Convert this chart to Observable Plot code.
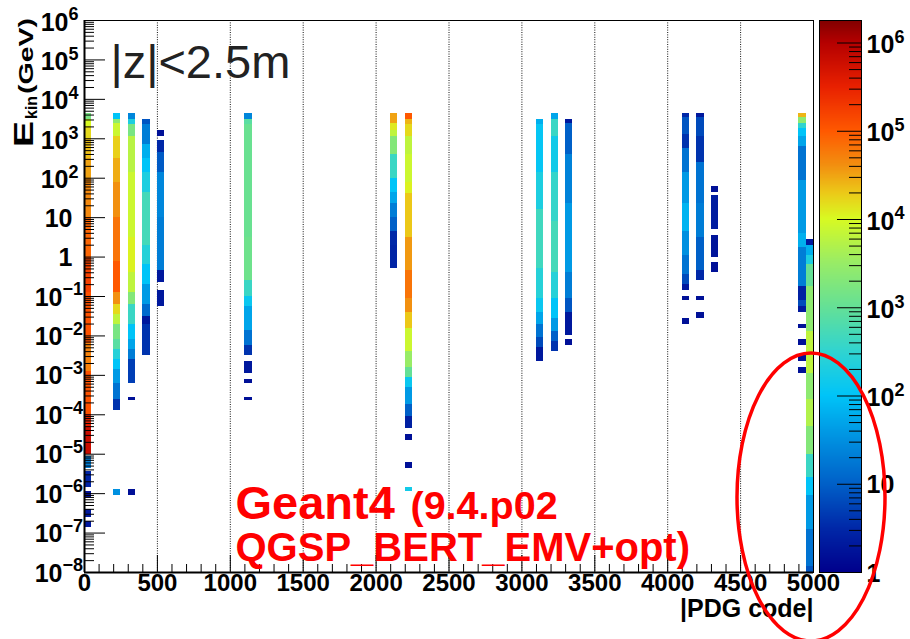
<!DOCTYPE html>
<html>
<head>
<meta charset="utf-8">
<script src="https://cdn.jsdelivr.net/npm/d3@7"></script>
<script src="https://cdn.jsdelivr.net/npm/@observablehq/plot@0.6"></script>
<style>
  html, body { margin: 0; padding: 0; background: #fff; }
  #chart { position: relative; width: 910px; height: 639px; overflow: hidden; font-family: "Liberation Sans", Arial, sans-serif; }
  #chart > svg, #chart > .layer { position: absolute; left: 0; top: 0; }
</style>
</head>
<body>
<div id="chart"></div>
<script>
// Kinetic energy vs |PDG code| of particles within |z| < 2.5 m.
// Each column is one 50-wide |PDG code| bin; each run is [log10(E/GeV) low, high, log10(entries)].
const binWidth = 50;

const pdg0000 = [
  [3.5, 3.65, 3.2], [3.3, 3.5, 4.0], [3.0, 3.3, 4.2], [2.5, 3.0, 4.35], [2.0, 2.5, 4.5],
  [1.0, 2.0, 4.65], [0.0, 1.0, 4.9], [-0.9, 0.0, 5.2], [-2.2, -0.9, 5.05], [-2.9, -2.2, 4.7],
  [-4.0, -2.9, 5.05], [-4.3, -4.0, 5.5], [-5.0, -4.3, 5.8], [-5.35, -5.05, 1.3],
  [-5.85, -5.45, 0.45], [-6.1, -5.95, 0.2], [-6.6, -6.4, 0.3], [-6.85, -6.7, 0.3]
];
const pdg0200 = [
  [3.5, 3.65, 2.0], [3.4, 3.5, 3.4], [3.05, 3.4, 3.9], [2.5, 3.05, 4.25], [1.9, 2.5, 4.45],
  [1.0, 1.9, 4.6], [-0.1, 1.0, 4.8], [-0.9, -0.1, 5.0], [-1.2, -0.9, 4.6], [-1.45, -1.2, 4.2],
  [-1.7, -1.45, 3.8], [-2.1, -1.7, 3.2], [-2.35, -2.1, 2.9], [-2.6, -2.35, 2.4],
  [-2.85, -2.6, 2.0], [-3.2, -2.85, 1.6], [-3.6, -3.2, 1.2], [-3.9, -3.6, 0.6],
  [-6.05, -5.9, 1.5]
];
const pdg0300 = [
  [3.5, 3.65, 1.4], [3.35, 3.5, 2.3], [3.05, 3.35, 3.2], [2.15, 3.05, 3.75], [0.5, 2.15, 3.9],
  [-0.4, 0.5, 4.05], [-0.9, -0.4, 3.8], [-1.2, -0.9, 3.3], [-1.7, -1.2, 2.6], [-2.1, -1.7, 2.0],
  [-2.35, -2.1, 1.7], [-2.6, -2.35, 1.3], [-3.2, -2.6, 0.7], [-3.65, -3.55, 0.2],
  [-6.05, -5.9, 0.2]
];
const pdg0400 = [
  [3.35, 3.5, 0.9], [2.85, 3.35, 1.3], [2.5, 2.85, 1.8], [2.15, 2.5, 2.0], [1.65, 2.15, 2.3],
  [0.3, 1.65, 2.7], [-0.2, 0.3, 2.4], [-0.7, -0.2, 2.0], [-1.2, -0.7, 1.6], [-1.5, -1.2, 1.1],
  [-1.7, -1.5, 0.3], [-2.5, -1.7, 0.6]
];
const pdg0500 = [
  [3.05, 3.2, 0.2], [2.65, 2.95, 0.5], [2.15, 2.65, 0.95], [1.0, 2.15, 1.4], [-0.35, 1.0, 1.3],
  [-0.65, -0.35, 0.3], [-1.25, -0.85, 0.3]
];
const pdg1100 = [
  [3.5, 3.65, 1.4], [3.35, 3.5, 2.9], [0.5, 3.35, 3.05], [-0.6, 0.5, 3.1], [-1.0, -0.6, 2.6],
  [-1.25, -1.0, 2.1], [-1.85, -1.25, 1.7], [-2.25, -1.85, 1.2], [-2.5, -2.25, 0.6],
  [-2.95, -2.65, 0.3], [-3.2, -3.1, 0.2], [-3.65, -3.55, 0.2]
];
const pdg2100 = [
  [3.4, 3.65, 4.5], [3.2, 3.4, 4.1], [3.05, 3.2, 3.8], [2.6, 3.05, 3.3], [2.0, 2.6, 2.6],
  [1.65, 2.0, 2.0], [1.35, 1.65, 1.7], [1.0, 1.35, 1.3], [0.65, 1.0, 1.0], [0.3, 0.65, 0.5],
  [-0.3, 0.3, 0.45]
];
const pdg2200 = [
  [3.5, 3.65, 5.0], [3.35, 3.5, 4.4], [3.05, 3.35, 4.2], [2.6, 3.05, 3.8], [1.9, 2.6, 3.9],
  [1.6, 1.9, 4.05], [0.5, 1.6, 4.3], [-0.35, 0.5, 4.55], [-1.05, -0.35, 4.8], [-1.4, -1.05, 4.6],
  [-1.8, -1.4, 4.3], [-2.4, -1.8, 3.9], [-2.8, -2.4, 3.5], [-3.05, -2.8, 3.0], [-3.3, -3.05, 2.1],
  [-3.75, -3.3, 1.6], [-4.05, -3.75, 1.0], [-4.35, -4.05, 0.4], [-4.65, -4.5, 0.2],
  [-5.35, -5.2, 0.2], [-5.95, -5.85, 2.2]
];
const pdg3100 = [
  [3.35, 3.5, 1.8], [2.15, 3.35, 2.05], [1.2, 2.15, 2.3], [-0.3, 1.2, 2.65], [-1.05, -0.3, 2.4],
  [-1.4, -1.05, 2.1], [-1.7, -1.4, 1.7], [-2.05, -1.7, 1.2], [-2.3, -2.05, 0.8], [-2.65, -2.3, 0.3]
];
const pdg3200 = [
  [3.5, 3.65, 1.7], [3.05, 3.5, 2.6], [2.15, 3.05, 2.2], [0.9, 2.15, 2.55], [-0.4, 0.9, 2.7],
  [-1.05, -0.4, 2.4], [-1.55, -1.05, 2.0], [-1.9, -1.55, 1.6], [-2.15, -1.9, 1.0], [-2.4, -2.15, 0.6]
];
const pdg3300 = [
  [3.4, 3.5, 0.3], [2.6, 3.4, 1.0], [1.35, 2.6, 1.35], [-0.4, 1.35, 1.6], [-1.05, -0.4, 1.3],
  [-1.4, -1.05, 0.9], [-2.0, -1.4, 0.3], [-2.25, -2.1, 0.2]
];
const pdg4100 = [
  [3.55, 3.65, 0.5], [3.1, 3.55, 0.9], [2.75, 3.1, 0.6], [2.15, 2.75, 1.2], [1.35, 2.15, 1.6],
  [0.65, 1.35, 1.85], [0.05, 0.65, 1.5], [-0.45, 0.05, 1.2], [-0.7, -0.45, 0.8], [-0.85, -0.7, 0.3],
  [-1.1, -1.0, 0.2], [-1.7, -1.55, 0.2]
];
const pdg4200 = [
  [3.55, 3.65, 0.3], [3.05, 3.55, 0.8], [2.4, 3.05, 0.6], [1.35, 2.4, 1.2], [0.5, 1.35, 1.3],
  [-0.35, 0.5, 1.0], [-0.6, -0.35, 0.5], [-1.1, -1.0, 0.2], [-1.55, -1.4, 0.2]
];
const pdg4300 = [
  [1.65, 1.8, 0.2], [0.7, 1.55, 0.35], [0.0, 0.55, 0.25], [-0.4, -0.15, 0.2]
];
const pdg4900 = [
  [3.55, 3.65, 4.4], [3.4, 3.55, 3.4], [3.25, 3.4, 2.5], [3.05, 3.25, 2.0], [2.8, 3.05, 1.7],
  [1.95, 2.8, 1.2], [0.6, 1.95, 1.6], [0.25, 0.6, 1.8], [-0.75, 0.25, 1.3], [-1.1, -0.75, 0.4],
  [-1.25, -1.1, 0.8], [-1.4, -1.25, 0.3], [-1.82, -1.7, 0.2], [-2.25, -2.1, 0.2],
  [-2.65, -2.5, 0.2], [-2.95, -2.8, 0.2]
];
const pdg4950 = [
  [0.3, 0.45, 0.3], [0.05, 0.3, 1.8], [-0.2, 0.05, 2.3], [-0.75, -0.2, 3.0], [-1.9, -0.75, 3.4],
  [-2.95, -1.9, 3.8], [-3.6, -2.95, 3.4], [-4.3, -3.6, 3.7], [-5.0, -4.3, 3.3], [-5.6, -5.0, 2.6],
  [-6.05, -5.6, 2.0], [-6.9, -6.05, 1.6], [-7.85, -6.9, 1.2], [-8.0, -7.85, 0.9]
];

const columns = [
  [0, pdg0000], [200, pdg0200], [300, pdg0300], [400, pdg0400], [500, pdg0500],
  [1100, pdg1100], [2100, pdg2100], [2200, pdg2200], [3100, pdg3100], [3200, pdg3200],
  [3300, pdg3300], [4100, pdg4100], [4200, pdg4200], [4300, pdg4300], [4900, pdg4900],
  [4950, pdg4950]
];

// Axis ticks and labels
const xMajor = d3.range(0, 5001, 500);
const xMinor = d3.range(0, 5001, 100).filter(v => v % 500 !== 0);
const xGrid = d3.range(500, 5000, 500);
const yDecades = d3.range(-8, 7);
const zDecades = d3.range(0, 7);
const minorSteps = [2, 3, 4, 5, 6, 7, 8, 9];

// Rainbow palette over log10(entries)
const zMax = 6.255;
const paletteStops = [0, 0.5, 1, 1.5, 2, 2.5, 3, 3.5, 4, 4.3, 4.6, 5, 5.5, 6, 6.255];
const paletteColors = ["#00008c", "#0028a8", "#0060c8", "#0090e0", "#00c4f8", "#30d4d0", "#64e096",
  "#98ec66", "#d8fa22", "#ecc818", "#f29010", "#ff5800", "#e82000", "#b40000", "#800000"];

const palette = d3.scaleLinear().domain(paletteStops).range(paletteColors)
  .interpolate(d3.interpolateRgb).clamp(true);
const colorOptions = {type: "linear", domain: [0, zMax], interpolate: t => palette(t * zMax)};

const cells = columns.flatMap(([bin, runs]) =>
  runs.map(([lo, hi, z]) => ({bin, lo, hi, z})));

const W = 910, H = 639;
const mL = 84, mR = 97, mT = 20, mB = 67;
const frameW = W - mL - mR, frameH = H - mT - mB;
const font = "Liberation Sans, Arial, Helvetica, sans-serif";

const yMinor = yDecades.slice(0, -1).flatMap(e => minorSteps.map(k => k * 10 ** e));
const yPlain = yDecades.filter(e => e === 0 || e === 1);
const yPos = yDecades.filter(e => e > 1);
const yNeg = yDecades.filter(e => e < 0);
const sup = e => (e < 0 ? "\u2212" : "") + Math.abs(e);

const main = Plot.plot({
  width: W, height: H,
  marginLeft: mL, marginRight: mR, marginTop: mT, marginBottom: mB,
  style: {fontFamily: font, background: "white", overflow: "visible"},
  x: {domain: [0, 5000], axis: null},
  y: {type: "log", domain: [1e-8, 1e6], axis: null},
  color: colorOptions,
  marks: [
    Plot.ruleX(xGrid, {x: d => d, stroke: "#111", strokeDasharray: "1,1.4", strokeWidth: 1}),
    Plot.rect(cells, {
      x1: d => d.bin, x2: d => d.bin + binWidth,
      y1: d => 10 ** d.lo, y2: d => 10 ** d.hi,
      fill: d => d.z, shapeRendering: "crispEdges"
    }),
    // inward ticks
    Plot.tickY(yDecades, {y: e => 10 ** e, insetRight: frameW - 21, stroke: "#000"}),
    Plot.tickY(yMinor, {y: d => d, insetRight: frameW - 10, stroke: "#000"}),
    Plot.tickX(xMajor, {x: d => d, insetTop: frameH - 17, stroke: "#000"}),
    Plot.tickX(xMinor, {x: d => d, insetTop: frameH - 8, stroke: "#000"}),
    Plot.frame({stroke: "#000", strokeWidth: 1}),
    Plot.ruleX([0], {stroke: "#000", strokeWidth: 2}),
    Plot.ruleY([1e-8], {stroke: "#000", strokeWidth: 2}),
    // x tick labels
    Plot.text(xMajor, {x: d => d, frameAnchor: "bottom", dy: 18, text: d => String(d),
      fontSize: 24, fontWeight: "bold", fill: "#000"}),
    Plot.text(["|PDG code|"], {frameAnchor: "bottom-right", dy: 44, textAnchor: "end",
      fontSize: 25, fontWeight: "bold", fill: "#000"}),
    // y tick labels
    Plot.text(yPlain, {y: e => 10 ** e, frameAnchor: "left", dx: -12, dy: 1, textAnchor: "end",
      text: e => e === 0 ? "1" : "10", fontSize: 25, fontWeight: "bold", fill: "#000"}),
    Plot.text(yPos, {y: e => 10 ** e, frameAnchor: "left", dx: -16, dy: 2, textAnchor: "end",
      text: () => "10", fontSize: 25, fontWeight: "bold", fill: "#000"}),
    Plot.text(yPos, {y: e => 10 ** e, frameAnchor: "left", dx: -16, dy: -6, textAnchor: "start",
      text: sup, fontSize: 18, fontWeight: "bold", fill: "#000"}),
    Plot.text(yNeg, {y: e => 10 ** e, frameAnchor: "left", dx: -22, dy: 1, textAnchor: "end",
      text: () => "10", fontSize: 25, fontWeight: "bold", fill: "#000"}),
    Plot.text(yNeg, {y: e => 10 ** e, frameAnchor: "left", dx: -22, dy: -7, textAnchor: "start",
      text: sup, fontSize: 18, fontWeight: "bold", fill: "#000"}),
    // annotations
    Plot.text(["|z|<2.5m"], {frameAnchor: "top-left", dx: 26, dy: 57, textAnchor: "start",
      lineAnchor: "bottom", fontSize: 47, fill: "#222"}),
    Plot.text(["Geant4"], {frameAnchor: "top-left", dx: 151, dy: 498, textAnchor: "start",
      lineAnchor: "bottom", fontSize: 47, fontWeight: "bold", fill: "#ff0000"}),
    Plot.text(["(9.4.p02"], {frameAnchor: "top-left", dx: 326, dy: 498, textAnchor: "start",
      lineAnchor: "bottom", fontSize: 39.5, fontWeight: "bold", fill: "#ff0000"}),
    Plot.text(["QGSP_BERT_EMV+opt)"], {frameAnchor: "top-left", dx: 151, dy: 540, textAnchor: "start",
      lineAnchor: "bottom", fontSize: 40, fontWeight: "bold", fill: "#ff0000"})
  ]
});

// Color bar: entries per bin on a log scale
const zLevels = d3.range(0, zMax, 0.005);
const zMinor = zDecades.slice(0, -1).flatMap(e => minorSteps.map(k => k * 10 ** e));
const cbW = 42;
const colorBar = Plot.plot({
  width: 100, height: H,
  marginLeft: 9, marginRight: 100 - 9 - cbW, marginTop: mT, marginBottom: mB,
  style: {fontFamily: font, background: "transparent", overflow: "visible"},
  x: {domain: [0, 1], axis: null},
  y: {type: "log", domain: [1, 10 ** zMax], axis: null},
  color: colorOptions,
  marks: [
    Plot.rect(zLevels, {y1: l => 10 ** l, y2: l => 10 ** (l + 0.006), fill: l => l, shapeRendering: "crispEdges"}),
    Plot.tickY(zDecades, {y: e => 10 ** e, insetLeft: cbW - 24, stroke: "#000"}),
    Plot.tickY(zMinor, {y: d => d, insetLeft: cbW - 12, stroke: "#000"}),
    Plot.frame({stroke: "#000", strokeWidth: 1}),
    Plot.text(zDecades.filter(e => e < 2), {y: e => 10 ** e, frameAnchor: "right", dx: 5, dy: 1,
      textAnchor: "start", text: e => e === 0 ? "1" : "10", fontSize: 25, fontWeight: "bold", fill: "#000"}),
    Plot.text(zDecades.filter(e => e >= 2), {y: e => 10 ** e, frameAnchor: "right", dx: 5, dy: 2,
      textAnchor: "start", text: () => "10", fontSize: 25, fontWeight: "bold", fill: "#000"}),
    Plot.text(zDecades.filter(e => e >= 2), {y: e => 10 ** e, frameAnchor: "right", dx: 33, dy: -6,
      textAnchor: "start", text: sup, fontSize: 18, fontWeight: "bold", fill: "#000"})
  ]
});
colorBar.style.left = "810px";

const chart = document.getElementById("chart");
chart.appendChild(main);
chart.appendChild(colorBar);

// y-axis title and the hand-drawn highlight ellipse
const ns = "http://www.w3.org/2000/svg";
const overlay = document.createElementNS(ns, "svg");
overlay.setAttribute("width", W);
overlay.setAttribute("height", H);
overlay.setAttribute("class", "layer");
overlay.style.pointerEvents = "none";
overlay.innerHTML = `
  <g font-family="${font}" font-weight="bold" fill="#000">
    <text transform="translate(33,147) rotate(-90)" font-size="28" textLength="26" lengthAdjust="spacingAndGlyphs">E</text>
    <text transform="translate(37,119) rotate(-90)" font-size="16">kin</text>
    <text transform="translate(33,94) rotate(-90)" font-size="20" textLength="76" lengthAdjust="spacingAndGlyphs">(GeV)</text>
  </g>
  <ellipse cx="811" cy="497" rx="74" ry="144" fill="none" stroke="#ff0000" stroke-width="3.5"/>
`;
chart.appendChild(overlay);
</script>
</body>
</html>
